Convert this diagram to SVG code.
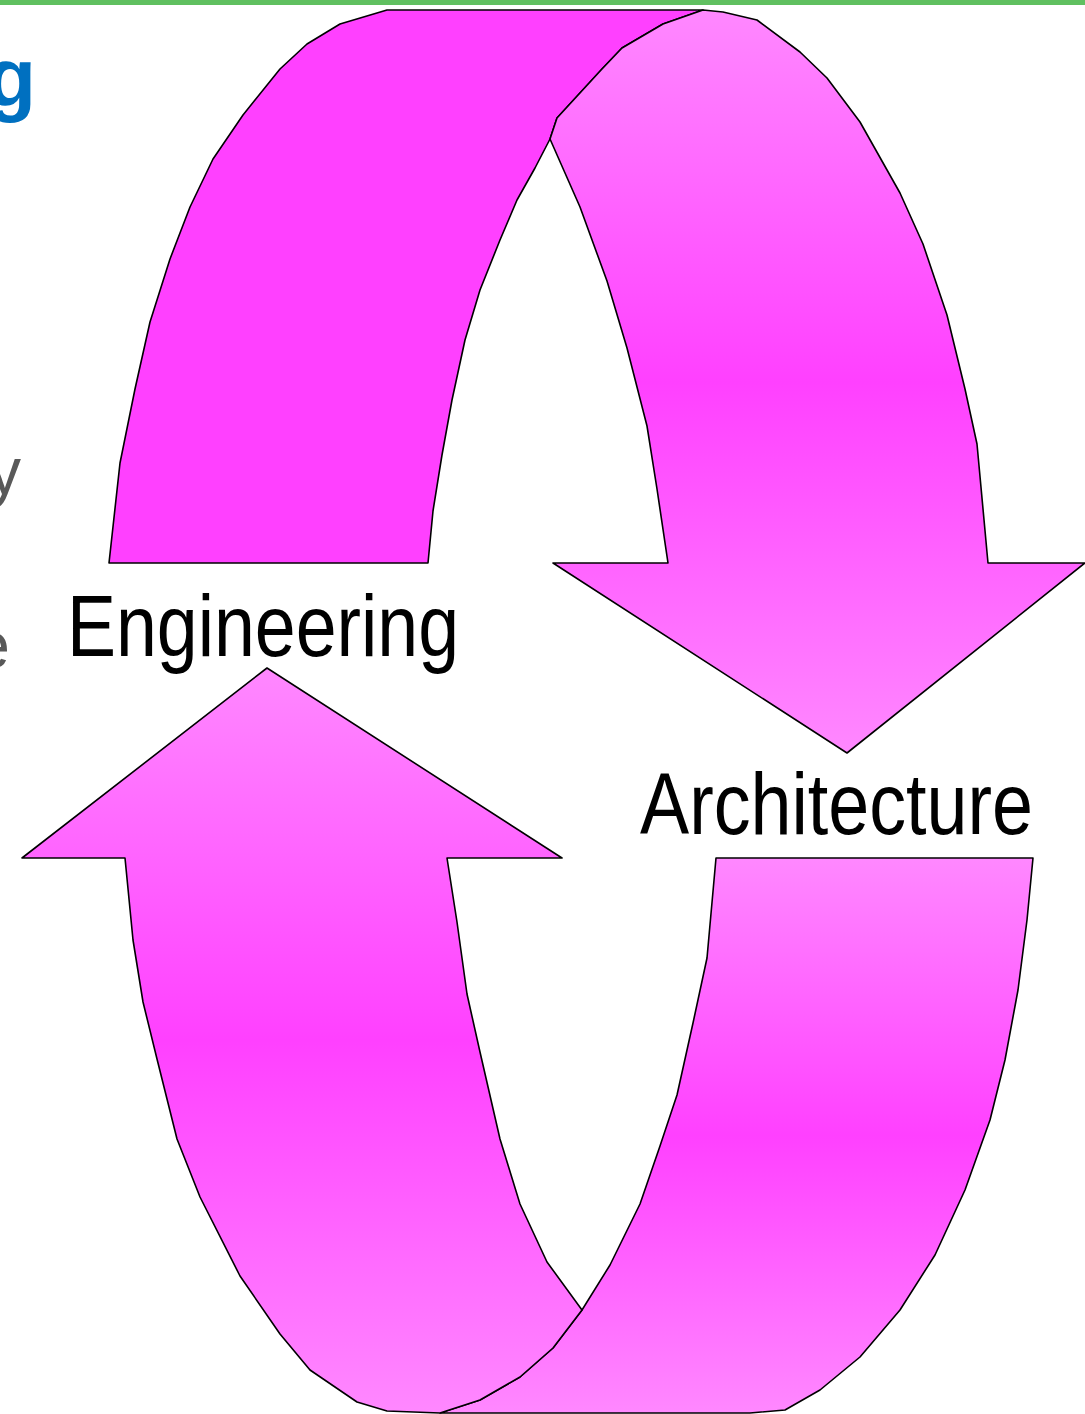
<svg xmlns="http://www.w3.org/2000/svg" width="1085" height="1414" viewBox="0 0 1085 1414">
  <defs>
    <linearGradient id="gv" x1="0" y1="0" x2="0" y2="1">
      <stop offset="0" stop-color="#ff88ff"/>
      <stop offset="0.5" stop-color="#ff40ff"/>
      <stop offset="1" stop-color="#ff88ff"/>
    </linearGradient>
  </defs>
  <style>
    .band { stroke: #000; stroke-width: 1.6; stroke-linejoin: round; }
    .back { fill: #ff40ff; }
    .front { fill: url(#gv); }
    .label { font-family: "Liberation Sans", Arial, sans-serif; font-size: 88px; fill: #000; }
    .body { font-family: "Liberation Sans", Arial, sans-serif; font-size: 66px; fill: #595959; }
    .title { font-family: "Liberation Sans", Arial, sans-serif; font-size: 82px; font-weight: bold; fill: #0070c0; }
  </style>
  <rect x="0" y="0" width="1085" height="5" fill="#60c060"/>
  <g id="background-text">
    <text class="title" x="36" y="106" text-anchor="end">g</text>
    <text class="body" x="21" y="494" text-anchor="end">y</text>
    <text class="body" x="10" y="668" text-anchor="end">e</text>
  </g>
  <g id="connectors">
    <path id="arrow-top-back" class="band back" d="M109,563 L120,463 L135,389 L150,322 L170,259 L190,207 L213,159 L243,115 L280,69 L307,44 L340,24 L387,10 L703,10 L663,24 L622,48 L602,69 L557,118 L550,139 L535,168 L517,200 L500,240 L480,290 L465,340 L452,400 L442,455 L433,511 L428,563 Z"/>
    <path id="arrow-top-front" class="band front" d="M550,139 L557,118 L602,69 L622,48 L663,24 L703,10 L723,12 L757,20 L800,52 L827,78 L860,122 L900,193 L923,244 L947,315 L965,389 L977,444 L988,563 L1085,563 L847,753 L553,563 L668,563 L657,489 L647,426 L627,348 L607,281 L580,207 Z"/>
    <path id="arrow-bottom-back" class="band front" d="M716,858 L1033,858 L1027,920 L1018,990 L1005,1060 L990,1120 L965,1190 L935,1255 L900,1310 L860,1357 L820,1390 L785,1410 L750,1413 L440,1413 L480,1400 L520,1377 L553,1348 L582,1310 L610,1265 L640,1204 L660,1146 L677,1095 L693,1023 L707,958 Z"/>
    <path id="arrow-bottom-front" class="band front" d="M267,668 L562,858 L447,858 L457,922 L467,994 L480,1052 L500,1139 L520,1204 L547,1262 L582,1310 L553,1348 L520,1377 L480,1400 L440,1413 L387,1411 L357,1402 L310,1370 L280,1334 L240,1276 L200,1197 L177,1139 L157,1059 L143,1002 L133,940 L125,858 L22,858 Z"/>
  </g>
  <g id="node-engineering">
    <text class="label" x="67" y="656" textLength="392" lengthAdjust="spacingAndGlyphs">Engineering</text>
  </g>
  <g id="node-architecture">
    <text class="label" x="640" y="834" textLength="393" lengthAdjust="spacingAndGlyphs">Architecture</text>
  </g>
</svg>
